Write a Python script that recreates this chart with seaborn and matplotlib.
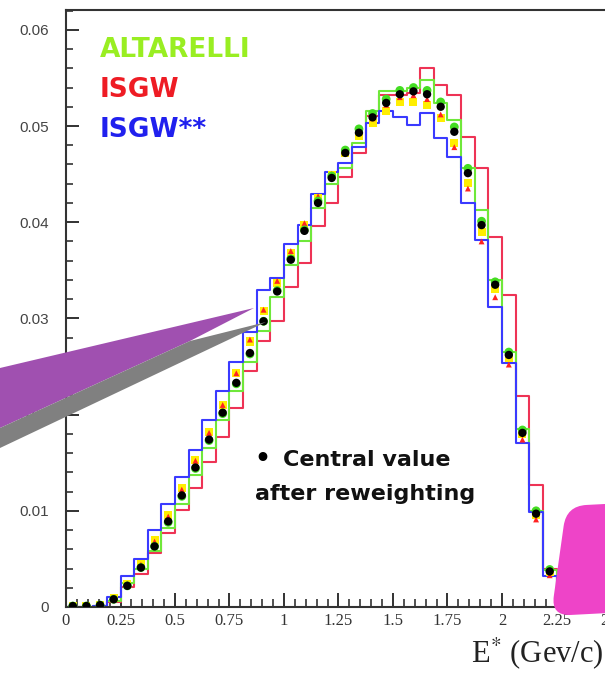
import numpy as np
import pandas as pd
import matplotlib
matplotlib.use("Agg")
import matplotlib.pyplot as plt
import seaborn as sns
from matplotlib.patches import Polygon, FancyBboxPatch
from matplotlib.transforms import Affine2D, IdentityTransform
from matplotlib.ticker import MultipleLocator, FuncFormatter, FixedLocator

# ---------------- data ----------------
bin_width = 0.0625
n_bins = 37
edges = np.arange(n_bins + 1) * bin_width
centers = edges[:-1] + bin_width / 2

central = [0.0001, 0.0001, 0.0002, 0.0008, 0.0022, 0.0041, 0.0063, 0.0089, 0.0116, 0.0145,
           0.0174, 0.0202, 0.0233, 0.0264, 0.0297, 0.0328, 0.0361, 0.0391, 0.0420, 0.0446,
           0.0472, 0.0493, 0.0509, 0.0524, 0.0533, 0.0536, 0.0533, 0.0520, 0.0494, 0.0451,
           0.0397, 0.0335, 0.0262, 0.0181, 0.0097, 0.0037, 0.0008]

altarelli = [0.0000, 0.0000, 0.0001, 0.0006, 0.0025, 0.0039, 0.0058, 0.0082, 0.0107, 0.0137,
             0.0165, 0.0194, 0.0225, 0.0255, 0.0287, 0.0322, 0.0356, 0.0380, 0.0415, 0.0440,
             0.0456, 0.0482, 0.0516, 0.0536, 0.0536, 0.0540, 0.0548, 0.0524, 0.0506, 0.0456,
             0.0413, 0.0340, 0.0265, 0.0185, 0.0100, 0.0038, 0.0008]

isgw = [0.0000, 0.0000, 0.0001, 0.0005, 0.0021, 0.0034, 0.0056, 0.0077, 0.0101, 0.0124,
        0.0151, 0.0177, 0.0207, 0.0245, 0.0276, 0.0297, 0.0333, 0.0358, 0.0396, 0.0420,
        0.0447, 0.0472, 0.0510, 0.0532, 0.0532, 0.0534, 0.0560, 0.0543, 0.0532, 0.0489,
        0.0456, 0.0385, 0.0324, 0.0219, 0.0127, 0.0040, 0.0010]

isgw_ss = [0.0000, 0.0000, 0.0001, 0.0010, 0.0032, 0.0050, 0.0080, 0.0107, 0.0135, 0.0163,
           0.0194, 0.0225, 0.0255, 0.0286, 0.0330, 0.0342, 0.0377, 0.0397, 0.0429, 0.0452,
           0.0462, 0.0478, 0.0503, 0.0516, 0.0509, 0.0501, 0.0514, 0.0488, 0.0468, 0.0420,
           0.0382, 0.0312, 0.0254, 0.0170, 0.0099, 0.0032, 0.0006]

yellow_pts = [0.0001, 0.0001, 0.0002, 0.0009, 0.0024, 0.0045, 0.0070, 0.0096, 0.0124, 0.0153,
              0.0182, 0.0210, 0.0243, 0.0276, 0.0308, 0.0337, 0.0368, 0.0397, 0.0425, 0.0449,
              0.0472, 0.0490, 0.0503, 0.0516, 0.0525, 0.0525, 0.0522, 0.0508, 0.0482, 0.0441,
              0.0390, 0.0331, 0.0259, 0.0180, 0.0096, 0.0036, 0.0008]

red_pts = [0.0001, 0.0001, 0.0002, 0.0009, 0.0024, 0.0044, 0.0068, 0.0094, 0.0122, 0.0152,
           0.0181, 0.0210, 0.0243, 0.0278, 0.0309, 0.0339, 0.0370, 0.0399, 0.0427, 0.0450,
           0.0474, 0.0494, 0.0508, 0.0522, 0.0530, 0.0532, 0.0528, 0.0512, 0.0478, 0.0435,
           0.0380, 0.0322, 0.0252, 0.0174, 0.0091, 0.0033, 0.0007]

green_pts = [0.0001, 0.0001, 0.0002, 0.0008, 0.0022, 0.0041, 0.0063, 0.0088, 0.0115, 0.0144,
             0.0173, 0.0201, 0.0232, 0.0263, 0.0297, 0.0329, 0.0362, 0.0392, 0.0422, 0.0448,
             0.0475, 0.0497, 0.0513, 0.0528, 0.0537, 0.0540, 0.0537, 0.0525, 0.0499, 0.0456,
             0.0401, 0.0338, 0.0265, 0.0184, 0.0100, 0.0039, 0.0009]

x_tick_values = [0, 0.25, 0.5, 0.75, 1, 1.25, 1.5, 1.75, 2, 2.25, 2.5]
y_tick_values = [0, 0.01, 0.02, 0.03, 0.04, 0.05, 0.06]

df = pd.DataFrame({'center': centers, 'central': central, 'altarelli': altarelli,
                   'isgw': isgw, 'isgw_ss': isgw_ss, 'yellow': yellow_pts,
                   'red': red_pts, 'green': green_pts})

# ---------------- figure ----------------
W, H = 605, 673
sns.set_theme(style="white")
plt.rcParams['font.family'] = ['DejaVu Sans']
plt.rcParams['mathtext.fontset'] = 'stix'

fig = plt.figure(figsize=(W / 100, H / 100), dpi=100)
fig.patch.set_facecolor('white')
px_per_unit = 218.0
ax = fig.add_axes([66 / W, 66 / H, 2.55 * px_per_unit / W, 597 / H])
ax.set_facecolor('white')

GREEN = '#6fe83a'
RED = '#ee3355'
BLUE = '#3a3aff'

for col, c in [('isgw', RED), ('altarelli', GREEN), ('isgw_ss', BLUE)]:
    sns.histplot(data=df, x='center', weights=col, bins=list(edges), element="step",
                 fill=False, color=c, linewidth=1.5, ax=ax)

sns.scatterplot(data=df, x='center', y='yellow', marker='s', color='#ffee00', s=34,
                edgecolor='none', ax=ax, zorder=4)
sns.scatterplot(data=df, x='center', y='red', marker='^', color='#ff2222', s=18,
                edgecolor='none', ax=ax, zorder=4)
sns.scatterplot(data=df, x='center', y='green', marker='o', color='#44dd22', s=40,
                edgecolor='none', ax=ax, zorder=5)
sns.scatterplot(data=df, x='center', y='central', marker='o', color='black', s=36,
                edgecolor='none', ax=ax, zorder=6)

ax.set_xlim(0, 2.55)
ax.set_ylim(0, 597 / 9620)
ax.set_xlabel('')
ax.set_ylabel('')

ax.xaxis.set_major_locator(FixedLocator(x_tick_values))
ax.xaxis.set_minor_locator(MultipleLocator(0.05))
ax.yaxis.set_major_locator(FixedLocator(y_tick_values))
ax.yaxis.set_minor_locator(MultipleLocator(0.002))
ax.xaxis.set_major_formatter(FuncFormatter(lambda v, p: '%g' % v))
ax.yaxis.set_major_formatter(FuncFormatter(lambda v, p: '0' if v == 0 else '%.2f' % v))

for s in ax.spines.values():
    s.set_color('#333333')
    s.set_linewidth(1.5)

ax.tick_params(axis='both', which='both', direction='in', color='#222222')
ax.tick_params(axis='x', which='major', length=10, width=1.3, pad=4, bottom=True)
ax.tick_params(axis='x', which='minor', length=6, width=1.1, bottom=True)
ax.tick_params(axis='y', which='major', length=9, width=1.3, pad=12, left=True)
ax.tick_params(axis='y', which='minor', length=5, width=1.1, left=True)
for lab in ax.get_xticklabels():
    lab.set_fontfamily('Liberation Serif')
    lab.set_fontsize(12)
    lab.set_color('#333333')
for lab in ax.get_yticklabels():
    lab.set_fontfamily('Liberation Sans')
    lab.set_fontsize(11)
    lab.set_color('#444444')


def fx(x):
    return x / W


def fy(y):
    return 1 - y / H


# axis title
fig.text(fx(604), fy(662), 'E$^{*}$ (Gev/c)', ha='right', va='baseline',
         fontsize=22, fontfamily='Liberation Serif', color='#222222')

# model labels
fig.text(fx(100), fy(57), 'ALTARELLI', color='#99ee22', fontsize=19,
         fontweight='bold', va='baseline', ha='left')
fig.text(fx(100), fy(97), 'ISGW', color='#ee1c24', fontsize=19,
         fontweight='bold', va='baseline', ha='left')
fig.text(fx(100), fy(137), 'ISGW**', color='#2020ee', fontsize=19,
         fontweight='bold', va='baseline', ha='left')

# note text
fig.text(fx(254), fy(466), '\u2022', color='black', fontsize=18,
         fontweight='bold', va='baseline', ha='left')
fig.text(fx(283), fy(466), 'Central value', color='#111111', fontsize=16,
         fontweight='bold', va='baseline', ha='left')
fig.text(fx(255), fy(500), 'after reweighting', color='#111111', fontsize=16,
         fontweight='bold', va='baseline', ha='left')


def disp(pts):
    return [(x, H - y) for x, y in pts]


purple = Polygon(disp([(0, 368), (254, 308), (190, 341), (0, 428)]), closed=True,
                 facecolor='#a050b0', edgecolor='none', transform=IdentityTransform(), zorder=8)
gray = Polygon(disp([(0, 428), (190, 341), (266, 322), (0, 448)]), closed=True,
               facecolor='#808080', edgecolor='none', transform=IdentityTransform(), zorder=8)
fig.add_artist(purple)
fig.add_artist(gray)

# pink rounded box at the bottom right
x0, y0 = 551, H - 616
pink = FancyBboxPatch((x0, y0), 110, 110, boxstyle='round,pad=0,rounding_size=20',
                      facecolor='#ee44c8', edgecolor='none', zorder=9)
tr = Affine2D().translate(-x0, -y0).skew_deg(8, 3).translate(x0, y0)
pink.set_transform(tr + IdentityTransform())
fig.add_artist(pink)

fig.savefig('out.png', dpi=100)
